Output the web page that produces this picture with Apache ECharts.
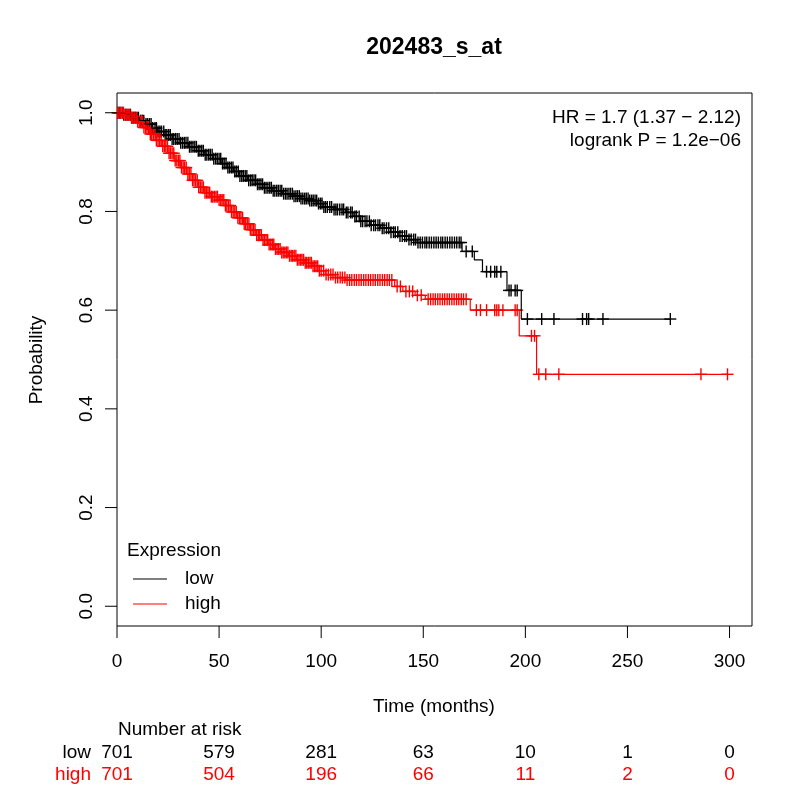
<!DOCTYPE html>
<html>
<head>
<meta charset="utf-8">
<title>202483_s_at</title>
<script src="https://cdn.jsdelivr.net/npm/echarts/dist/echarts.min.js"></script>
<style>
html, body { margin: 0; padding: 0; background: #fff; }
#display { width: 800px; height: 800px; }
</style>
</head>
<body>
<div id="display"></div>
<script>
// Kaplan-Meier steps: [time, survival] after each drop
var lowTimes = [0, 3, 7, 11, 14, 17, 20, 23, 27, 31, 35, 39, 43, 47, 51, 54, 57, 60, 64, 68,
    72, 76, 81, 86, 90, 94, 98, 101, 106, 112, 116, 119, 124, 129, 134, 138, 143, 147, 169,
    175, 179, 191, 198];
var lowSurv = [1.0, 0.996, 0.990, 0.984, 0.977, 0.969, 0.962, 0.955, 0.947, 0.939, 0.931,
    0.923, 0.915, 0.907, 0.897, 0.889, 0.881, 0.872, 0.863, 0.855, 0.848, 0.842, 0.836,
    0.831, 0.826, 0.822, 0.816, 0.809, 0.804, 0.798, 0.790, 0.780, 0.772, 0.766, 0.758,
    0.750, 0.743, 0.737, 0.719, 0.702, 0.678, 0.640, 0.582];
var lowEnd = 271;

var highTimes = [0, 4, 7, 10, 13, 16, 19, 22, 25, 28, 31, 34, 37, 40, 43, 46, 50, 53, 56, 59,
    62, 65, 68, 71, 74, 77, 80, 84, 88, 92, 96, 99, 102, 107, 112, 136, 140, 146, 151, 173,
    197, 205.5];
var highSurv = [1.0, 0.996, 0.990, 0.982, 0.970, 0.957, 0.944, 0.932, 0.918, 0.903, 0.889,
    0.876, 0.863, 0.849, 0.838, 0.830, 0.823, 0.812, 0.799, 0.787, 0.775, 0.763, 0.752,
    0.742, 0.733, 0.724, 0.717, 0.710, 0.702, 0.696, 0.689, 0.680, 0.672, 0.666, 0.661,
    0.648, 0.638, 0.630, 0.622, 0.600, 0.548, 0.470];
var highEnd = 299;

// censoring times (+ marks), estimated where they merge into a band
var lowCensor = [0.4, 1.1, 1.8, 2.7, 3.3, 4.2, 4.9, 5.8, 6.6, 7.3, 8.1, 9.0, 9.8, 10.5, 11.6,
    12.4, 13.1, 14.2, 15.0, 15.9, 16.7, 17.5, 18.6, 19.3, 20.1, 21.0, 21.8, 22.9, 23.6, 24.4,
    25.3, 26.1, 27.0, 27.8, 28.7, 29.5, 30.4, 31.2, 32.1, 33.0, 33.8, 34.7, 35.5, 36.3, 37.2,
    38.1, 38.9, 39.8, 40.6, 41.5, 42.3, 43.2, 44.0, 44.9, 45.7, 46.6, 47.4, 48.3, 49.1, 50.0,
    50.8, 51.7, 52.5, 53.4, 54.3, 55.1, 56.0, 56.8, 57.7, 58.5, 59.4, 60.2, 61.1, 61.9, 62.8,
    63.6, 64.5, 65.4, 66.2, 67.1, 67.9, 68.8, 69.6, 70.5, 71.3, 72.2, 73.0, 73.9, 74.8, 75.6,
    76.5, 77.3, 78.2, 79.0, 79.9, 80.7, 81.6, 82.5, 83.3, 84.2, 85.0, 85.9, 86.7, 87.6, 88.4,
    89.3, 90.1, 91.0, 91.9, 92.7, 93.6, 94.4, 95.3, 96.1, 97.0, 97.8, 98.7, 99.6, 100.4,
    101.3, 102.1, 103.0, 104.2, 105.1, 106.3, 107.2, 108.0, 109.1, 110.2, 111.0, 112.3,
    113.1, 114.4, 115.2, 116.5, 117.3, 118.6, 119.4, 120.3, 121.5, 122.4, 123.6, 124.5,
    125.7, 126.6, 127.8, 128.7, 129.9, 130.8, 132.0, 133.1, 134.2, 135.4, 136.3, 137.5,
    138.6, 139.7, 140.9, 141.8, 143.0, 144.1, 145.3, 146.2, 147.4, 148.5, 149.6, 150.8,
    151.7, 152.9, 154.0, 155.2, 156.3, 157.4, 158.6, 159.5, 160.7, 161.8, 163.0, 164.1,
    165.3, 166.4, 167.6, 168.5, 171, 174, 181, 183, 185, 186, 188, 192, 193, 195, 196,
    201, 208, 214, 228, 230, 231, 238, 271];
var highCensor = [0.3, 1.0, 1.7, 2.5, 3.2, 4.0, 4.8, 5.5, 6.3, 7.1, 7.8, 8.6, 9.4, 10.1, 10.9,
    11.7, 12.4, 13.2, 14.0, 14.7, 15.5, 16.3, 17.0, 17.8, 18.6, 19.3, 20.1, 20.9, 21.6, 22.4,
    23.2, 23.9, 24.7, 25.5, 26.2, 27.0, 27.8, 28.5, 29.3, 30.1, 30.8, 31.6, 32.4, 33.1, 33.9,
    34.7, 35.4, 36.2, 37.0, 37.7, 38.5, 39.3, 40.0, 40.8, 41.6, 42.3, 43.1, 43.9, 44.6, 45.4,
    46.2, 46.9, 47.7, 48.5, 49.2, 50.0, 50.8, 51.5, 52.3, 53.1, 53.8, 54.6, 55.4, 56.1, 56.9,
    57.7, 58.4, 59.2, 60.0, 60.7, 61.5, 62.3, 63.0, 63.8, 64.6, 65.3, 66.1, 66.9, 67.6, 68.4,
    69.2, 69.9, 70.7, 71.5, 72.2, 73.0, 73.8, 74.5, 75.3, 76.1, 76.8, 77.6, 78.4, 79.1, 79.9,
    80.7, 81.4, 82.2, 83.0, 83.7, 84.5, 85.3, 86.0, 86.8, 87.6, 88.3, 89.1, 89.9, 90.6, 91.4,
    92.2, 92.9, 93.7, 94.5, 95.2, 96.0, 96.8, 97.5, 98.3, 99.1, 100.0, 101.2, 102.4, 103.5,
    104.7, 105.8, 107.0, 108.1, 109.3, 110.4, 111.6, 112.7, 113.9, 115.0, 116.2, 117.3,
    118.5, 119.6, 120.8, 121.9, 123.1, 124.2, 125.4, 126.5, 127.7, 128.8, 130.0, 131.1,
    132.3, 133.4, 134.6, 137.2, 138.8, 141.5, 143.2, 144.8, 147.1, 149.0, 152.4, 153.6,
    154.8, 155.9, 157.1, 158.2, 159.4, 160.5, 161.7, 162.8, 164.0, 165.1, 166.3, 167.4,
    168.6, 169.7, 171.0, 176, 178, 181, 185, 186, 187, 189, 195, 196, 203, 204.5, 206.6,
    210, 216.4, 286, 299];

var xTicks = [0, 50, 100, 150, 200, 250, 300];
var yTicks = [0, 0.2, 0.4, 0.6, 0.8, 1.0];
var yTickLabels = ['0.0', '0.2', '0.4', '0.6', '0.8', '1.0'];

var riskTimes = [0, 50, 100, 150, 200, 250, 300];
var riskLow = [701, 579, 281, 63, 10, 1, 0];
var riskHigh = [701, 504, 196, 66, 11, 2, 0];

var xMin = 0, xMax = 311, yMin = -0.04, yMax = 1.04;
var FONT = "19px 'Liberation Sans', Arial, sans-serif";
var RED = '#ff0000';

function stepData(times, surv, end) {
    var pts = times.map(function (t, i) { return [t, surv[i]]; });
    pts.push([end, surv[surv.length - 1]]);
    return pts;
}

function survAt(times, surv, t) {
    var s = surv[0];
    for (var i = 0; i < times.length; i++) {
        if (times[i] <= t) s = surv[i];
    }
    return s;
}

function censorData(cens, times, surv) {
    return cens.map(function (t) { return [t, survAt(times, surv, t)]; });
}

function plusMarks(color) {
    return function (params, api) {
        var p = api.coord([api.value(0), api.value(1)]);
        var h = 6;
        return {
            type: 'group',
            children: [
                {type: 'line', shape: {x1: p[0] - h, y1: p[1], x2: p[0] + h, y2: p[1]},
                    style: {stroke: color, lineWidth: 1.4}},
                {type: 'line', shape: {x1: p[0], y1: p[1] - h, x2: p[0], y2: p[1] + h},
                    style: {stroke: color, lineWidth: 1.4}}
            ]
        };
    };
}

function txt(text, x, y, opts) {
    opts = opts || {};
    return {
        type: 'text', x: x, y: y, rotation: opts.rotation || 0, silent: true,
        style: {
            text: text, x: 0, y: 0, fill: opts.color || '#000',
            font: opts.font || FONT, align: opts.align || 'center', verticalAlign: 'middle'
        }
    };
}

var option = {
    animation: false,
    backgroundColor: '#fff',
    grid: {left: 117, right: 48, top: 93, bottom: 174, show: true,
        borderColor: '#000', borderWidth: 1, backgroundColor: 'transparent'},
    xAxis: {type: 'value', min: xMin, max: xMax, axisLine: {show: false},
        axisTick: {show: false}, axisLabel: {show: false}, splitLine: {show: false}},
    yAxis: {type: 'value', min: yMin, max: yMax, axisLine: {show: false},
        axisTick: {show: false}, axisLabel: {show: false}, splitLine: {show: false}},
    graphic: [
        txt('202483_s_at', 434, 48, {font: "bold 23px 'Liberation Sans', Arial, sans-serif"}),
        txt('HR = 1.7 (1.37 \u2212 2.12)', 741, 118, {align: 'right'}),
        txt('logrank P = 1.2e\u221206', 741, 141, {align: 'right'}),
        txt('Probability', 37, 360, {rotation: Math.PI / 2}),
        txt('Time (months)', 434, 707),
        txt('Number at risk', 118, 730, {align: 'left'}),
        txt('low', 91, 753, {align: 'right'}),
        txt('high', 91, 775, {align: 'right', color: RED}),
        txt('Expression', 127, 551, {align: 'left'}),
        {type: 'line', silent: true, shape: {x1: 133, y1: 579, x2: 167, y2: 579},
            style: {stroke: '#000', lineWidth: 1.2}},
        txt('low', 185, 579, {align: 'left'}),
        {type: 'line', silent: true, shape: {x1: 133, y1: 604, x2: 167, y2: 604},
            style: {stroke: RED, lineWidth: 1.2}},
        txt('high', 185, 604, {align: 'left'})
    ],
    series: [
        {
            name: 'low', type: 'line', step: 'end', symbol: 'none',
            data: stepData(lowTimes, lowSurv, lowEnd),
            lineStyle: {color: '#000', width: 1.2}
        },
        {
            name: 'high', type: 'line', step: 'end', symbol: 'none',
            data: stepData(highTimes, highSurv, highEnd),
            lineStyle: {color: RED, width: 1.2}
        },
        {
            name: 'low censored', type: 'custom', silent: true,
            data: censorData(lowCensor, lowTimes, lowSurv),
            renderItem: plusMarks('#000')
        },
        {
            name: 'high censored', type: 'custom', silent: true,
            data: censorData(highCensor, highTimes, highSurv),
            renderItem: plusMarks(RED)
        },
        {
            // x axis ticks, labels and the number-at-risk table
            type: 'custom', silent: true,
            data: xTicks.map(function (v) { return [v, yMin]; }),
            renderItem: function (params, api) {
                var i = params.dataIndex;
                var p = api.coord([xTicks[i], yMin]);
                return {
                    type: 'group',
                    children: [
                        {type: 'line', shape: {x1: p[0], y1: p[1], x2: p[0], y2: p[1] + 12},
                            style: {stroke: '#000', lineWidth: 1}},
                        txt(String(xTicks[i]), p[0], p[1] + 36),
                        txt(String(riskLow[i]), api.coord([riskTimes[i], yMin])[0], 753),
                        txt(String(riskHigh[i]), api.coord([riskTimes[i], yMin])[0], 775, {color: RED})
                    ]
                };
            }
        },
        {
            // y axis ticks and labels
            type: 'custom', silent: true,
            data: yTicks.map(function (v) { return [xMin, v]; }),
            renderItem: function (params, api) {
                var i = params.dataIndex;
                var p = api.coord([xMin, yTicks[i]]);
                return {
                    type: 'group',
                    children: [
                        {type: 'line', shape: {x1: p[0] - 12, y1: p[1], x2: p[0], y2: p[1]},
                            style: {stroke: '#000', lineWidth: 1}},
                        txt(yTickLabels[i], p[0] - 30, p[1], {rotation: Math.PI / 2})
                    ]
                };
            }
        }
    ]
};

var myChart = echarts.init(document.getElementById('display'));
myChart.setOption(option);
</script>
</body>
</html>
